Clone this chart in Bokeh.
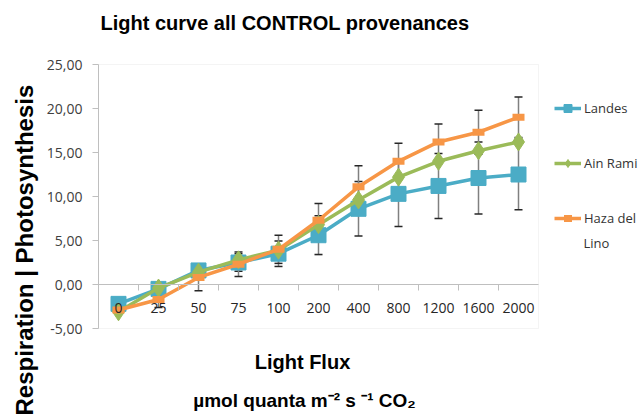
from bokeh.plotting import figure
from bokeh.models import (Range1d, LinearAxis, FixedTicker, Whisker, ColumnDataSource,
                          Legend, LegendItem, Title, Label, TeeHead, BoxAnnotation)
from bokeh.embed import file_html
from bokeh.resources import INLINE

# ---- data ----
categories = ["0", "25", "50", "75", "100", "200", "400", "800", "1200", "1600", "2000"]
landes = [-2.2, -0.5, 1.6, 2.5, 3.5, 5.6, 8.6, 10.3, 11.2, 12.1, 12.5]
ain_rami = [-3.1, -0.4, 1.4, 2.8, 3.9, 6.8, 9.6, 12.2, 14.0, 15.2, 16.2]
haza = [-2.9, -1.7, 0.8, 2.3, 4.0, 7.3, 11.1, 14.0, 16.2, 17.3, 19.0]
landes_err = [0.3, 0.4, 0.5, 1.0, 1.45, 2.2, 3.1, 3.7, 3.7, 4.1, 4.0]
haza_err = [0.3, 0.9, 1.5, 1.4, 1.6, 1.9, 2.4, 2.05, 2.05, 2.5, 2.3]
y_ticks = [-5, 0, 5, 10, 15, 20, 25]
y_tick_labels = ["-5,00", "0,00", "5,00", "10,00", "15,00", "20,00", "25,00"]

BLUE = "#4BACC6"
GREEN = "#9BBB59"
ORANGE = "#F79646"

N = len(categories)
Y_MIN, Y_MAX = -5, 25
xpos = [i + 0.5 for i in range(N)]
src = ColumnDataSource(dict(
    x=xpos, landes=landes, ain=ain_rami, haza=haza,
    l_up=[v + e for v, e in zip(landes, landes_err)],
    l_lo=[v - e for v, e in zip(landes, landes_err)],
    h_up=[v + e for v, e in zip(haza, haza_err)],
    h_lo=[v - e for v, e in zip(haza, haza_err)],
))

# frame covers the canvas right of the y axis; the plot box is drawn inside it
p = figure(width=640, height=415, output_backend="svg", toolbar_location=None,
           x_range=Range1d(0, 13.55), y_range=Range1d(-14.886, 32.2727),
           x_axis_location=None, y_axis_location="left",
           min_border_left=98, min_border_right=0, min_border_top=0, min_border_bottom=0)
p.background_fill_color = "white"
p.border_fill_color = "white"
p.outline_line_color = None
p.xgrid.visible = False
p.ygrid.visible = False

p.add_layout(BoxAnnotation(left=0, right=N, bottom=Y_MIN, top=Y_MAX, fill_alpha=0,
                           line_color="#d9d9d9", line_width=1, level="underlay"))

# y axis
ya = p.yaxis[0]
ya.bounds = (Y_MIN, Y_MAX)
ya.ticker = FixedTicker(ticks=y_ticks)
ya.major_label_overrides = {t: l for t, l in zip(y_ticks, y_tick_labels)}
ya.axis_line_color = "#bfbfbf"
ya.major_tick_line_color = "#bfbfbf"
ya.major_tick_out = 6
ya.major_tick_in = 0
ya.minor_tick_line_color = None
ya.major_label_standoff = 10
ya.major_label_text_font = "Open Sans"
ya.major_label_text_font_size = "14px"
ya.major_label_text_color = "#404040"

# x axis at zero
xa = LinearAxis(fixed_location=0, bounds=(0, N))
xa.ticker = FixedTicker(ticks=xpos, minor_ticks=list(range(1, N)))
xa.major_label_overrides = {x: c for x, c in zip(xpos, categories)}
xa.axis_line_color = "#bfbfbf"
xa.major_tick_line_color = None
xa.major_tick_out = 0
xa.major_tick_in = 0
xa.minor_tick_line_color = "#bfbfbf"
xa.minor_tick_out = 6
xa.minor_tick_in = 0
xa.major_label_standoff = 12
xa.major_label_text_font = "Open Sans"
xa.major_label_text_font_size = "14px"
xa.major_label_text_color = "#262626"
p.add_layout(xa, "below")

# y title (side title, shifted along the axis)
p.add_layout(Title(text="Respiration | Photosynthesis", align="left", offset=0,
                   text_font="Liberation Sans", text_font_style="bold",
                   text_font_size="24px", text_color="#000000", standoff=12), "left")

# texts inside the frame
bold = dict(text_font="Liberation Sans", text_font_style="bold", text_color="#000000",
            text_baseline="middle")
p.add_layout(Label(x=0.05, y=29.66, text="Light curve all CONTROL provenances",
                   text_font_size="20px", text_align="left", **bold))
p.add_layout(Label(x=5.1, y=-8.86, text="Light Flux",
                   text_font_size="20px", text_align="center", **bold))
p.add_layout(Label(x=5.15, y=-13.18,
                   text="\u00b5mol quanta m\u207b\u00b2 s \u207b\u00b9 CO\u2082",
                   text_font_size="19px", text_align="center", **bold))

# error bars
for up, lo in (("l_up", "l_lo"), ("h_up", "h_lo")):
    w = Whisker(source=src, base="x", upper=up, lower=lo,
                line_color="#808080", line_width=1.5, level="underlay",
                upper_head=TeeHead(size=8, line_color="#262626", line_width=1.5),
                lower_head=TeeHead(size=8, line_color="#262626", line_width=1.5))
    p.add_layout(w)

# series
l1 = p.line("x", "landes", source=src, line_color=BLUE, line_width=3.5)
m1 = p.scatter("x", "landes", source=src, marker="square", size=15,
               fill_color=BLUE, line_color=BLUE)
l2 = p.line("x", "ain", source=src, line_color=GREEN, line_width=3.5)
m2 = p.scatter("x", "ain", source=src, marker="diamond", size=18,
               fill_color=GREEN, line_color=GREEN)
l3 = p.line("x", "haza", source=src, line_color=ORANGE, line_width=3.5)
m3 = p.scatter("x", "haza", source=src, marker="dash", size=12,
               line_color=ORANGE, line_width=7)

legend = Legend(items=[
    LegendItem(label="Landes", renderers=[l1, m1]),
    LegendItem(label="Ain Rami", renderers=[l2, m2]),
    LegendItem(label="Haza del", renderers=[l3, m3]),
], location=(456, 187), orientation="vertical")
legend.padding = 0
legend.margin = 0
legend.spacing = 35
legend.glyph_width = 27
legend.glyph_height = 20
legend.label_height = 20
legend.label_standoff = 3
legend.border_line_color = None
legend.background_fill_alpha = 0
legend.label_text_font = "Open Sans"
legend.label_text_font_size = "13px"
legend.label_text_color = "#333333"
p.add_layout(legend)

p.add_layout(Label(x=12.125, y=4.77, text="Lino", text_font="Open Sans",
                   text_font_size="13px", text_color="#333333",
                   text_align="left", text_baseline="middle"))

open("out.html", "w").write(file_html(p, INLINE))
